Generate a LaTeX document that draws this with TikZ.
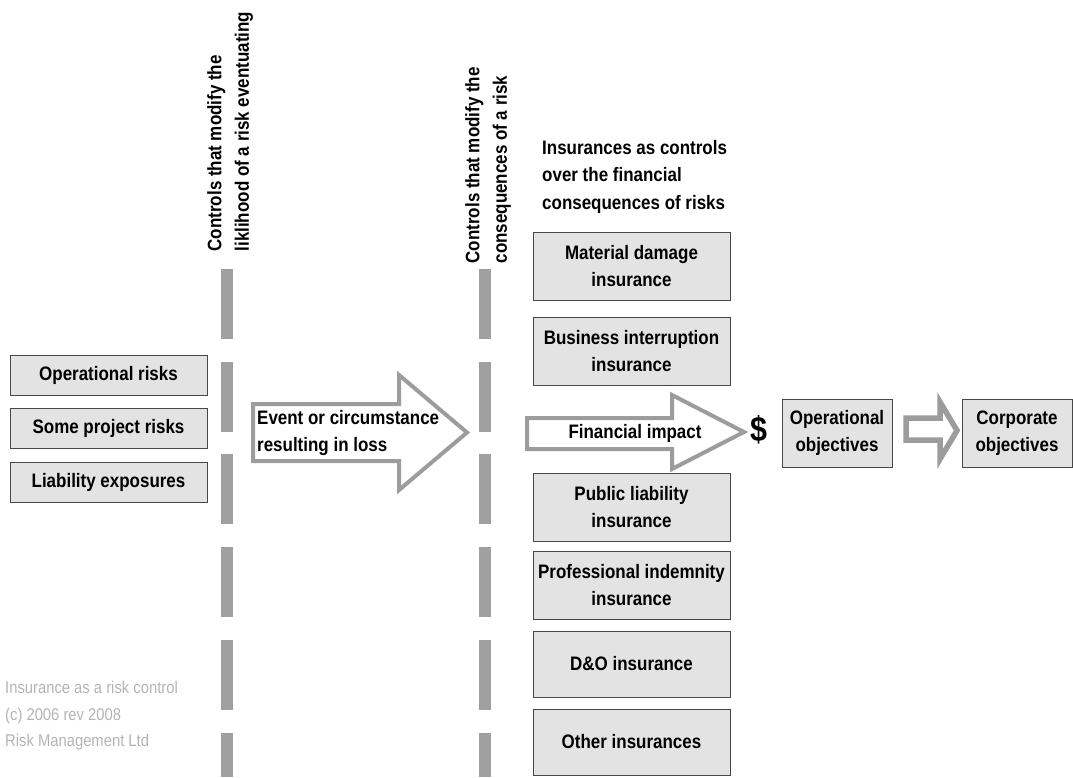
\documentclass[tikz,border=0pt]{standalone}
\usepackage{fontspec}
\setmainfont{Liberation Sans}[FakeStretch=0.87]
\definecolor{boxfill}{HTML}{E3E3E3}
\definecolor{boxline}{HTML}{474747}
\definecolor{dashgray}{HTML}{A0A0A0}
\definecolor{arrowgray}{HTML}{9C9C9C}
\definecolor{notegray}{HTML}{B4B4B4}
\begin{document}
\begin{tikzpicture}[x=1pt,y=-1pt,
  txt/.style={font=\bfseries\fontsize{19.5}{27.5}\selectfont, inner sep=0pt},
  box/.style={txt, draw=boxline, fill=boxfill, line width=1pt, align=center},
  leftbox/.style={box, minimum width=197pt, minimum height=40pt},
  insbox/.style={box, minimum width=197pt, minimum height=68pt},
  objbox/.style={box, minimum width=110pt, minimum height=68pt},
  rothdr/.style={txt, rotate=90, align=left, anchor=west},
  dashbar/.style={fill=dashgray},
  blockarrow/.style={draw=arrowgray, fill=white, line width=4pt, line join=miter}
]
\useasboundingbox (0,0) rectangle (1073,777);

% dashed control lines
\foreach \y in {269,362,454,547,640} {
  \fill[dashbar] (221,\y) rectangle (233,\y+70);
  \fill[dashbar] (479,\y) rectangle (491,\y+70);
}
\fill[dashbar] (221,733) rectangle (233,777);
\fill[dashbar] (479,733) rectangle (491,777);

% rotated headers
\node[rothdr] (hdrA) at (230,251.5) {Controls that modify the\\liklihood of a risk eventuating};
\node[rothdr] (hdrB) at (488,263.5) {Controls that modify the\\consequences of a risk};

% insurance header
\node[txt, align=left, anchor=north west] (hdrC) at (542,140)
  {Insurances as controls\\over the financial\\consequences of risks};

% left risk boxes
\node[leftbox] (ops) at (108.5,375.5) {Operational risks};
\node[leftbox] (proj) at (108.5,428) {Some project risks};
\node[leftbox] (liab) at (108.5,482) {Liability exposures};

% event arrow
\draw[blockarrow] (253,404) -- (399,404) -- (399,375) -- (467,432.5)
  -- (399,490) -- (399,461) -- (253,461) -- cycle;
\node[txt, align=left, anchor=west] (event) at (257,433)
  {Event or circumstance\\resulting in loss};

% insurance boxes
\node[insbox] (md) at (631.5,266) {Material damage\\insurance};
\node[insbox] (bi) at (631.5,351) {Business interruption\\insurance};
\node[insbox] (pl) at (631.5,507) {Public liability\\insurance};
\node[insbox] (pi) at (631.5,585) {Professional indemnity\\insurance};
\node[insbox, minimum height=66pt] (dno) at (631.5,664) {D\&O insurance};
\node[insbox, minimum height=66pt] (other) at (631.5,742) {Other insurances};

% financial impact arrow
\draw[blockarrow] (527,418) -- (672,418) -- (672,395) -- (744,432)
  -- (672,469) -- (672,449) -- (527,449) -- cycle;
\node[txt] (fin) at (635,433) {Financial impact};

\node[txt, font=\bfseries\fontsize{35}{35}\selectfont] (dollar) at (759,430) {\$};

% objectives
\node[objbox] (opobj) at (837,433) {Operational\\objectives};
\node[objbox] (corp) at (1017,433) {Corporate\\objectives};

\draw[blockarrow, line width=5.5pt] (906,418) -- (940,418) -- (940,402) -- (957,430.5)
  -- (940,459) -- (940,440) -- (906,440) -- cycle;

% footnote
\node[anchor=north west, align=left, inner sep=0pt, text=notegray,
  font=\fontsize{17}{26.5}\selectfont] (note) at (5,681)
  {Insurance as a risk control\\(c) 2006 rev 2008\\Risk Management Ltd};
\end{tikzpicture}
\end{document}
